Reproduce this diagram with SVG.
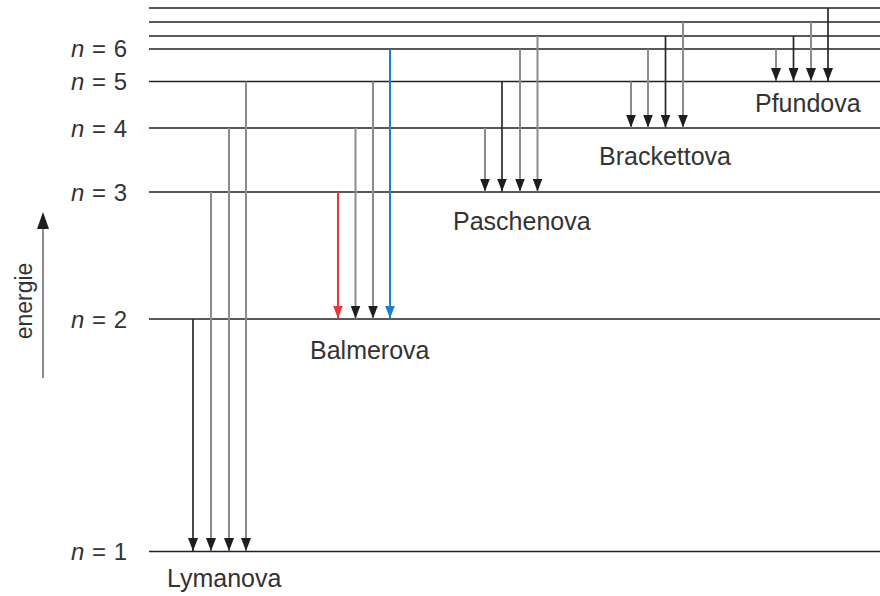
<svg xmlns="http://www.w3.org/2000/svg" width="880" height="596" viewBox="0 0 880 596">
  <style>
    .level { stroke: #222; stroke-width: 1.6; fill: none; }
    .tr { fill: none; stroke-width: 2; }
    .dark { stroke: #2a2a2a; stroke-width: 1.7; }
    .grey { stroke: #8c8c8c; }
    .red { stroke: #e8373c; }
    .blue { stroke: #1b7fd2; }
    text { font-family: "Liberation Sans", Arial, sans-serif; fill: #333; }
    .lbl { font-size: 24px; word-spacing: 1px; }
    .series { font-size: 25px; }
    .axis-label { font-size: 23px; }
    .n { font-style: italic; }
  </style>
  <defs>
    <!-- arrowheads drawn along +x, rotated to the line direction -->
    <marker id="hd" markerUnits="userSpaceOnUse" markerWidth="14" markerHeight="10" refX="13" refY="5" orient="auto" viewBox="0 0 14 10">
      <path d="M0,0 L13,5 L0,10 Z" fill="#1e1e1e"/>
    </marker>
    <marker id="hdRed" markerUnits="userSpaceOnUse" markerWidth="14" markerHeight="10" refX="13" refY="5" orient="auto" viewBox="0 0 14 10">
      <path d="M0,0 L13,5 L0,10 Z" fill="#e8373c"/>
    </marker>
    <marker id="hdBlue" markerUnits="userSpaceOnUse" markerWidth="14" markerHeight="10" refX="13" refY="5" orient="auto" viewBox="0 0 14 10">
      <path d="M0,0 L13,5 L0,10 Z" fill="#1b7fd2"/>
    </marker>
  </defs>

  <!-- energy levels -->
  <g id="levels">
    <line class="level" x1="149" y1="8" x2="880" y2="8"/>
    <line class="level" x1="149" y1="22" x2="880" y2="22"/>
    <line class="level" x1="149" y1="36" x2="880" y2="36"/>
    <line id="n6" class="level" x1="149" y1="49" x2="880" y2="49"/>
    <line id="n5" class="level" x1="149" y1="81.5" x2="880" y2="81.5"/>
    <line id="n4" class="level" x1="149" y1="128" x2="880" y2="128"/>
    <line id="n3" class="level" x1="149" y1="192" x2="880" y2="192"/>
    <line id="n2" class="level" x1="149" y1="319" x2="880" y2="319"/>
    <line id="n1" class="level" x1="149" y1="551.5" x2="880" y2="551.5"/>
  </g>

  <!-- level labels -->
  <g id="level-labels" class="lbl">
    <text x="71" y="57"><tspan class="n">n</tspan> = 6</text>
    <text x="71" y="90"><tspan class="n">n</tspan> = 5</text>
    <text x="71" y="136.5"><tspan class="n">n</tspan> = 4</text>
    <text x="71" y="200.5"><tspan class="n">n</tspan> = 3</text>
    <text x="71" y="327.5"><tspan class="n">n</tspan> = 2</text>
    <text x="71" y="560"><tspan class="n">n</tspan> = 1</text>
  </g>

  <!-- energy axis -->
  <g id="axis">
    <line x1="43" y1="378" x2="43" y2="226" stroke="#8c8c8c" stroke-width="2"/>
    <path d="M37,229 L49,229 L43,212 Z" fill="#1e1e1e"/>
    <text class="axis-label" transform="translate(32,301) rotate(-90)" text-anchor="middle">energie</text>
  </g>

  <!-- transitions -->
  <g id="connectors">
    <!-- Lyman -->
    <line class="tr dark" x1="193" y1="319" x2="193" y2="551" marker-end="url(#hd)"/>
    <line class="tr grey" x1="211" y1="192" x2="211" y2="551" marker-end="url(#hd)"/>
    <line class="tr grey" x1="229" y1="128" x2="229" y2="551" marker-end="url(#hd)"/>
    <line class="tr grey" x1="246" y1="81.5" x2="246" y2="551" marker-end="url(#hd)"/>
    <!-- Balmer -->
    <line class="tr red" x1="338" y1="192" x2="338" y2="318.5" marker-end="url(#hdRed)"/>
    <line class="tr grey" x1="355.5" y1="128" x2="355.5" y2="318.5" marker-end="url(#hd)"/>
    <line class="tr grey" x1="373" y1="81.5" x2="373" y2="318.5" marker-end="url(#hd)"/>
    <line class="tr blue" x1="390" y1="49" x2="390" y2="318.5" marker-end="url(#hdBlue)"/>
    <!-- Paschen -->
    <line class="tr grey" x1="485" y1="128" x2="485" y2="191.5" marker-end="url(#hd)"/>
    <line class="tr dark" x1="502" y1="81.5" x2="502" y2="191.5" marker-end="url(#hd)"/>
    <line class="tr grey" x1="520" y1="49" x2="520" y2="191.5" marker-end="url(#hd)"/>
    <line class="tr grey" x1="537.5" y1="36" x2="537.5" y2="191.5" marker-end="url(#hd)"/>
    <!-- Brackett -->
    <line class="tr grey" x1="631" y1="81.5" x2="631" y2="127.5" marker-end="url(#hd)"/>
    <line class="tr grey" x1="648" y1="49" x2="648" y2="127.5" marker-end="url(#hd)"/>
    <line class="tr dark" x1="665.5" y1="36" x2="665.5" y2="127.5" marker-end="url(#hd)"/>
    <line class="tr grey" x1="683" y1="22" x2="683" y2="127.5" marker-end="url(#hd)"/>
    <!-- Pfund -->
    <line class="tr grey" x1="776" y1="49" x2="776" y2="81" marker-end="url(#hd)"/>
    <line class="tr dark" x1="793.5" y1="36" x2="793.5" y2="81" marker-end="url(#hd)"/>
    <line class="tr grey" x1="811" y1="22" x2="811" y2="81" marker-end="url(#hd)"/>
    <line class="tr dark" x1="828" y1="8" x2="828" y2="81" marker-end="url(#hd)"/>
  </g>

  <!-- series names -->
  <g id="series-labels" class="series">
    <text id="lyman" x="167" y="587">Lymanova</text>
    <text id="balmer" x="310" y="359">Balmerova</text>
    <text id="paschen" x="453" y="230">Paschenova</text>
    <text id="brackett" x="599" y="165">Brackettova</text>
    <text id="pfund" x="755" y="112">Pfundova</text>
  </g>
</svg>
